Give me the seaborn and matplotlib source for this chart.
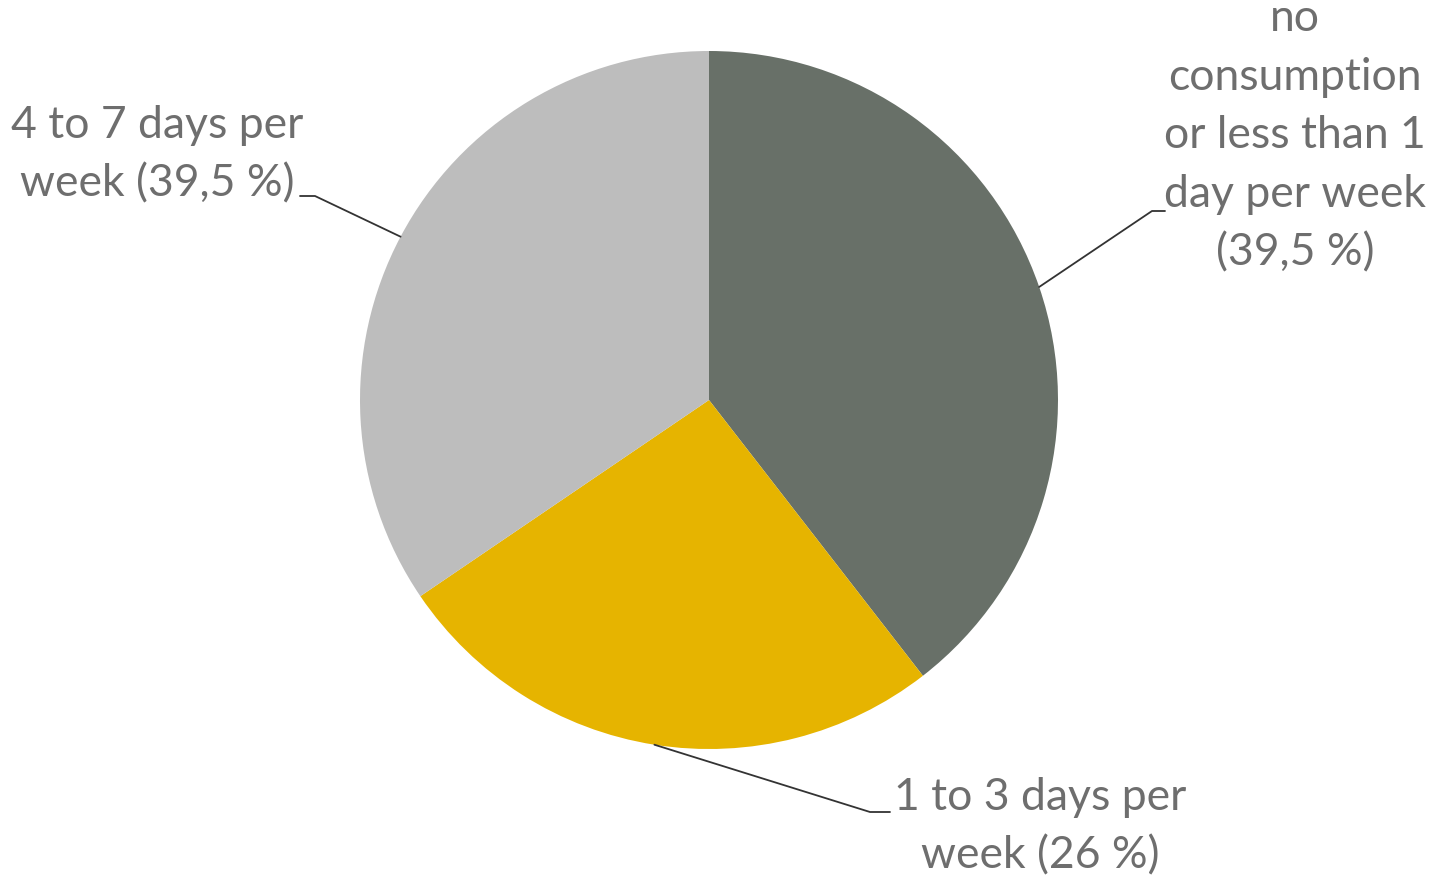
import numpy as np
import matplotlib
matplotlib.use("Agg")
import matplotlib.pyplot as plt
import seaborn as sns

# data
labels = ["no\nconsumption\nor less than 1\nday per week\n(39,5 %)",
          "1 to 3 days per\nweek (26 %)",
          "4 to 7 days per\nweek (39,5 %)"]
shares = [39.5, 26.0, 34.5]
colors = ["#687068", "#E6B400", "#BDBDBD"]

sns.set_theme(style="white")
plt.rcParams['font.family'] = ['Lato', 'DejaVu Sans']

W, H = 1433, 879
fig = plt.figure(figsize=(W / 100, H / 100), dpi=100)
ax = fig.add_axes([0, 0, 1, 1])

cx, cy, r = 709, H - 401, 349
wedges, _ = ax.pie(shares, colors=colors, startangle=90, counterclock=False,
                   center=(cx, cy), radius=r, frame=True,
                   wedgeprops=dict(linewidth=0))
ax.set_xlim(0, W)
ax.set_ylim(0, H)
ax.set_aspect('equal')
ax.axis('off')

# label placement: text centre, elbow of the leader, end of the leader
place = [
    dict(tx=1295, ty=H - 136, ex=1152, ey=H - 212, lx=1165),
    dict(tx=1040, ty=H - 827, ex=870, ey=H - 813, lx=890),
    dict(tx=157, ty=H - 155, ex=315, ey=H - 197, lx=300),
]

txt_color = "#6E6E6E"
for w, lab, p in zip(wedges, labels, place):
    mid = np.deg2rad((w.theta1 + w.theta2) / 2)
    px, py = cx + r * np.cos(mid), cy + r * np.sin(mid)
    ax.plot([px, p['ex'], p['lx']], [py, p['ey'], p['ey']], color="#333333", lw=1.3)
    ax.text(p['tx'], p['ty'], lab, ha='center', va='center', fontsize=32,
            color=txt_color, linespacing=1.53)

fig.savefig("out.png", dpi=100, facecolor="white")
